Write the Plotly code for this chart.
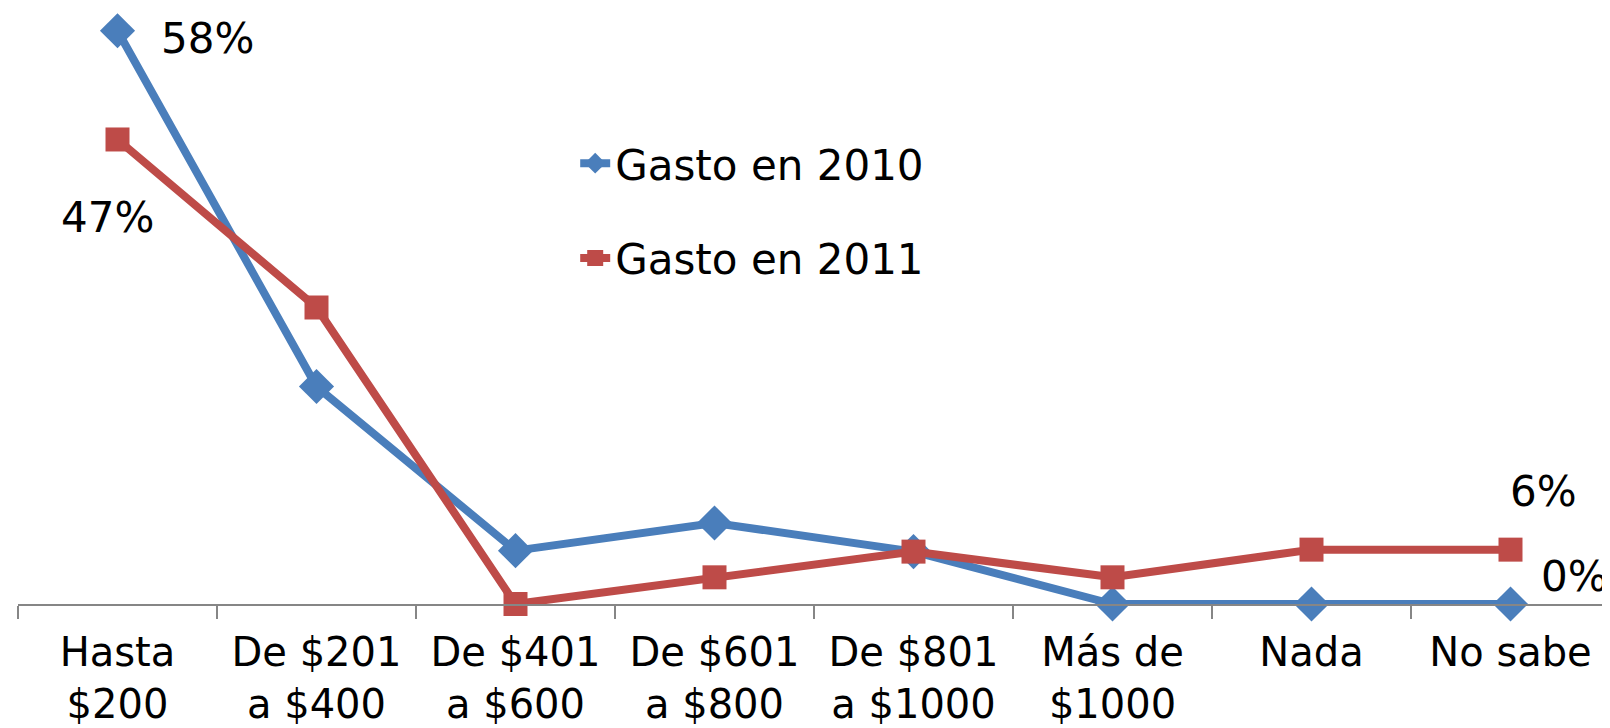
import plotly.graph_objects as go

categories = [
    "Hasta<br>$200",
    "De $201<br>a $400",
    "De $401<br>a $600",
    "De $601<br>a $800",
    "De $801<br>a $1000",
    "Más de<br>$1000",
    "Nada",
    "No sabe",
]
gasto_2010 = [58, 22, 5.4, 8.2, 5.3, 0, 0, 0]
gasto_2011 = [47, 30, 0, 2.7, 5.3, 2.7, 5.5, 5.5]

BLUE = "#4A7EBB"
RED = "#BE4B48"
FONT = "DejaVu Sans"
SIZE = 42

fig = go.Figure()
fig.add_trace(go.Scatter(
    x=categories, y=gasto_2010, name="Gasto en 2010", mode="lines+markers",
    line=dict(color=BLUE, width=8),
    marker=dict(symbol="diamond", size=27, color=BLUE),
    cliponaxis=False, legend="legend",
))
fig.add_trace(go.Scatter(
    x=categories, y=gasto_2011, name="Gasto en 2011", mode="lines+markers",
    line=dict(color=RED, width=8),
    marker=dict(symbol="square", size=24, color=RED),
    cliponaxis=False, legend="legend2",
))

# data labels on first and last point of each series
labels = [
    (categories[0], gasto_2010[0], 41, -8, "left"),
    (categories[-1], gasto_2010[-1], 28, 28, "left"),
    (categories[0], gasto_2011[0], -10, -78, "center"),
    (categories[-1], gasto_2011[-1], 33, 58, "center"),
]
for x, y, dx, dy, anchor in labels:
    fig.add_annotation(
        x=x, y=y, text=f"{round(y)}%", showarrow=False,
        xanchor=anchor, yanchor="middle", xshift=dx, yshift=dy,
        font=dict(family=FONT, size=SIZE, color="black"),
    )

legend_style = dict(
    font=dict(family=FONT, size=SIZE, color="black"),
    bgcolor="rgba(0,0,0,0)", xanchor="left", yanchor="middle",
    itemwidth=30,
)
# page body keeps its default 8px margin, so the figure is sized to fit
fig.update_layout(
    width=1602, height=720,
    margin=dict(l=10, r=0, t=3, b=124),
    paper_bgcolor="white", plot_bgcolor="white",
    showlegend=True,
    legend=dict(x=0.35, y=0.743, **legend_style),
    legend2=dict(x=0.35, y=0.583, **legend_style),
    xaxis=dict(
        type="category", range=[-0.5, 7.5], automargin=False,
        showline=True, linecolor="#868686", linewidth=2,
        ticks="outside", tickson="boundaries", ticklen=13,
        tickcolor="#868686", tickwidth=2, ticklabelstandoff=12,
        showgrid=False, zeroline=False,
        tickfont=dict(family=FONT, size=40, color="black"),
    ),
    yaxis=dict(range=[0, 60], visible=False, showgrid=False, zeroline=False,
               automargin=False),
)

fig.write_html("out.html")
